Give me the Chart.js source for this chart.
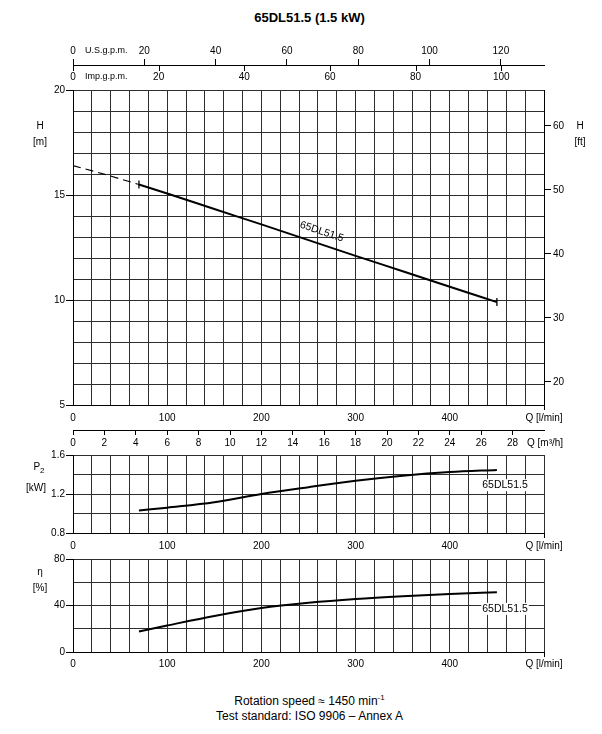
<!DOCTYPE html>
<html><head><meta charset="utf-8">
<script src="https://cdn.jsdelivr.net/npm/chart.js@4.4.1/dist/chart.umd.min.js"></script>
<style>
html,body{margin:0;padding:0;background:#fff;}
body{width:602px;height:734px;position:relative;overflow:hidden;font-family:"Liberation Sans",Arial,sans-serif;color:#000;}
canvas{position:absolute;left:0;}
.t{position:absolute;white-space:nowrap;text-align:center;}
.n{font-family:"Liberation Sans Narrow","Liberation Sans",Arial,sans-serif;font-size:10px;line-height:12px;}
</style></head><body>
<div class="t" style="left:0;width:619px;top:10px;font-size:13px;line-height:16px;font-weight:bold;">65DL51.5 (1.5 kW)</div>

<canvas id="c1" width="602" height="450" style="top:0px"></canvas>
<canvas id="c2" width="602" height="115" style="top:440px"></canvas>
<canvas id="c3" width="602" height="130" style="top:545px"></canvas>

<div class="t n" style="left:30px;width:20px;top:120px;">H</div>
<div class="t n" style="left:30px;width:20px;top:136px;">[m]</div>
<div class="t n" style="left:570px;width:20px;top:120px;">H</div>
<div class="t n" style="left:570px;width:20px;top:136px;">[ft]</div>
<div class="t n" style="left:29px;width:20px;top:461px;">P<span style="font-size:8px;position:relative;top:3px;">2</span></div>
<div class="t n" style="left:26px;width:20px;top:482px;">[kW]</div>
<div class="t n" style="left:30px;width:20px;top:566px;">&eta;</div>
<div class="t n" style="left:30px;width:20px;top:582px;">[%]</div>

<div class="t" style="left:0;width:619px;top:694px;font-size:12px;line-height:15px;">Rotation speed &asymp; 1450 min<sup style="font-size:8px;line-height:0;">-1</sup></div>
<div class="t" style="left:0;width:619px;top:709px;font-size:12px;line-height:15px;">Test standard: ISO 9906 &ndash; Annex A</div>

<script>
// ---------------- data ----------------
const CURVE_NAME = '65DL51.5';
// H curve, dashed part (outside the operating range)
const Q_H_DASH = [0, 35, 70];
const H_DASH   = [16.4, 15.97, 15.5];
// H curve, operating range
const Q_H = [70, 100, 150, 200, 250, 300, 350, 400, 450];
const H_M = [15.5, 15.07, 14.33, 13.6, 12.85, 12.1, 11.37, 10.63, 9.9];
// P2 and efficiency curves
const Q_PE  = [70, 100, 150, 200, 250, 300, 350, 400, 450];
const P2_KW = [1.03, 1.06, 1.115, 1.2, 1.27, 1.335, 1.387, 1.425, 1.447];
const ETA   = [17.7, 22.8, 31, 37.8, 42.3, 45.6, 48, 49.9, 51.4];
// tick labels
const Q_LABELS   = [0, 100, 200, 300, 400];
const H_LABELS   = [5, 10, 15, 20];
const FT_LABELS  = [20, 30, 40, 50, 60];
const USG_LABELS = [0, 20, 40, 60, 80, 100, 120];
const IMPG_LABELS= [0, 20, 40, 60, 80, 100];
const M3H_LABELS = [0, 2, 4, 6, 8, 10, 12, 14, 16, 18, 20, 22, 24, 26, 28];
const P2_LABELS  = [0.8, 1.2, 1.6];
const ETA_LABELS = [0, 40, 80];
// unit conversions
const L_PER_USG = 3.785411784, L_PER_IMPG = 4.54609, FT_PER_M = 3.28084, LMIN_PER_M3H = 1000/60;

// ---------------- helpers ----------------
const NARROW = '"Liberation Sans Narrow","Liberation Sans",Arial,sans-serif';
const GRID = '#2e2e2e';
const CLEAR = 'rgba(0,0,0,0)';
Chart.defaults.font.family = NARROW;
Chart.defaults.font.size = 10;
Chart.defaults.color = '#000';
function range(a, b, s){ const r=[]; const n=Math.round((b-a)/s); for(let i=0;i<=n;i++) r.push(Math.round((a+i*s)*1e6)/1e6); return r; }
function pts(xs, ys){ return xs.map((x,i)=>({x:x, y:ys[i]})); }
function has(arr, v){ return arr.some(a=>Math.abs(a-v)<1e-6); }
function setTicks(arr){ return s=>{ s.ticks = arr.map(v=>({value:v})); }; }
function fixW(w){ return s=>{ s.width = w; }; }
function fixH(h){ return s=>{ s.height = h; }; }

function qAxis(h, pad){
  return {
    type:'linear', position:'bottom', weight:0, min:0, max:500,
    afterBuildTicks: setTicks(range(0,500,20)),
    ticks:{autoSkip:false, maxRotation:0, padding:pad,
      callback:v=> v===500 ? 'Q [l/min]' : (has(Q_LABELS,v) ? String(v) : '')},
    grid:{color:GRID, lineWidth:1, tickLength:5, tickColor:c=> (c.tick && c.tick.value===500) ? '#000' : CLEAR},
    border:{color:'#000'},
    afterFit: fixH(h)
  };
}
function leftAxis(min, max, step, labels, fmt){
  return {
    type:'linear', position:'left', min:min, max:max,
    afterBuildTicks: setTicks(range(min,max,step)),
    ticks:{autoSkip:false, padding:1, callback:v=> has(labels,v) ? fmt(v) : ''},
    grid:{color:GRID, lineWidth:1, tickLength:7, tickColor:c=> (c.tick && has(labels,c.tick.value)) ? '#000' : CLEAR},
    border:{color:'#000'},
    afterFit: fixW(73)
  };
}
function lineDs(xs, ys, extra){
  return Object.assign({data:pts(xs,ys), borderColor:'#000', borderWidth:2, pointRadius:0,
    cubicInterpolationMode:'monotone', fill:false}, extra||{});
}
const baseOpts = {responsive:false, animation:false, events:[],
  plugins:{legend:{display:false}, tooltip:{enabled:false}, title:{display:false}}};

// ---------------- main H chart ----------------
const extrasMain = {
  id:'extrasMain',
  afterDraw(chart){
    const {ctx, scales} = chart;
    const us = scales.xus, imp = scales.ximp, x = scales.x, y = scales.y, m3 = scales.xm3;
    ctx.save();
    // Imp. g.p.m. tick marks hang down from the shared line
    ctx.strokeStyle = '#000'; ctx.lineWidth = 1;
    ctx.beginPath();
    IMPG_LABELS.forEach(v=>{
      const px = Math.round(imp.getPixelForValue(v)) + 0.5;
      ctx.moveTo(px, us.bottom); ctx.lineTo(px, us.bottom + 6);
    });
    ctx.stroke();
    ctx.fillStyle = '#000';
    ctx.font = '9px ' + NARROW;
    ctx.textBaseline = 'middle'; ctx.textAlign = 'left';
    ctx.fillText('U.S.g.p.m.', chart.chartArea.left + 12, us.bottom - 14);
    ctx.fillText('Imp.g.p.m.', chart.chartArea.left + 12, imp.bottom - 13);
    ctx.font = '10px ' + NARROW;
    ctx.fillText('Q [m\u00B3/h]', m3.getPixelForValue(30) - 17, m3.top + 13);
    // curve name along the H curve
    const xa = x.getPixelForValue(Q_H[3]), ya = y.getPixelForValue(H_M[3]);
    const xb = x.getPixelForValue(Q_H[5]), yb = y.getPixelForValue(H_M[5]);
    const ang = Math.atan2(yb - ya, xb - xa);
    ctx.translate(x.getPixelForValue(264), y.getPixelForValue(13.25));
    ctx.rotate(ang);
    ctx.font = '10.5px ' + NARROW;
    ctx.textAlign = 'center';
    ctx.fillText(CURVE_NAME, 0, 0);
    ctx.restore();
  }
};

new Chart(document.getElementById('c1'), {
  type:'line',
  data:{datasets:[
    lineDs(Q_H_DASH, H_DASH, {borderWidth:1.2, borderDash:[8,5], cubicInterpolationMode:'default', tension:0}),
    lineDs(Q_H, H_M),
    {data:[{x:Q_H[0], y:H_M[0]}, {x:Q_H[Q_H.length-1], y:H_M[H_M.length-1]}], showLine:false,
      pointStyle:'line', pointRotation:90, pointRadius:4, pointBorderWidth:1.3, pointBorderColor:'#000'}
  ]},
  options:Object.assign({}, baseOpts, {
    layout:{padding:{top:40, left:0, right:0, bottom:0}},
    scales:{
      x: qAxis(25, 2),
      xm3:{type:'linear', position:'bottom', weight:1, min:0, max:500/LMIN_PER_M3H,
        afterBuildTicks: setTicks(M3H_LABELS),
        ticks:{autoSkip:false, maxRotation:0, padding:2},
        grid:{drawOnChartArea:false, tickLength:5, tickColor:'#000', color:'#000'},
        border:{color:'#000'}, afterFit: fixH(20)},
      ximp:{type:'linear', position:'top', weight:0, min:0, max:500/L_PER_IMPG,
        afterBuildTicks: setTicks(IMPG_LABELS),
        ticks:{autoSkip:false, maxRotation:0, padding:0},
        grid:{drawOnChartArea:false, tickLength:7, tickColor:CLEAR, color:CLEAR},
        border:{display:false}, afterFit: fixH(25)},
      xus:{type:'linear', position:'top', weight:1, min:0, max:500/L_PER_USG,
        afterBuildTicks: setTicks(USG_LABELS),
        ticks:{autoSkip:false, maxRotation:0, padding:2},
        grid:{drawOnChartArea:false, tickLength:6, tickColor:'#000', color:'#000'},
        border:{color:'#000'}, afterFit: fixH(25)},
      y: leftAxis(5, 20, 1, H_LABELS, v=>String(v)),
      yft:{type:'linear', position:'right', min:5*FT_PER_M, max:20*FT_PER_M,
        afterBuildTicks: setTicks(FT_LABELS),
        ticks:{autoSkip:false, padding:2},
        grid:{drawOnChartArea:false, tickLength:7, tickColor:'#000', color:'#000'},
        border:{color:'#000'}, afterFit: fixW(58)}
    }
  }),
  plugins:[extrasMain]
});

// ---------------- P2 and efficiency charts ----------------
function nameLabel(q, v){
  return {id:'name', afterDatasetsDraw(chart){
    const {ctx, scales:{x, y}} = chart;
    const px = x.getPixelForValue(q), py = y.getPixelForValue(v);
    ctx.save();
    ctx.font = '10.5px ' + NARROW;
    const w = ctx.measureText(CURVE_NAME).width;
    ctx.fillStyle = '#fff';
    ctx.fillRect(px - w/2 - 1, py - 6, w + 2, 12);
    ctx.fillStyle = '#000'; ctx.textAlign = 'center'; ctx.textBaseline = 'middle';
    ctx.fillText(CURVE_NAME, px, py);
    ctx.restore();
  }};
}

new Chart(document.getElementById('c2'), {
  type:'line',
  data:{datasets:[lineDs(Q_PE, P2_KW)]},
  options:Object.assign({}, baseOpts, {
    layout:{padding:{top:15, left:0, right:58, bottom:0}},
    scales:{
      x: qAxis(22, 2),
      y: leftAxis(0.8, 1.6, 0.2, P2_LABELS, v=>v.toFixed(1))
    }
  }),
  plugins:[nameLabel(458.6, 1.29)]
});

new Chart(document.getElementById('c3'), {
  type:'line',
  data:{datasets:[lineDs(Q_PE, ETA)]},
  options:Object.assign({}, baseOpts, {
    layout:{padding:{top:14, left:0, right:58, bottom:0}},
    scales:{
      x: qAxis(23, 1),
      y: leftAxis(0, 80, 20, ETA_LABELS, v=>String(v))
    }
  }),
  plugins:[nameLabel(458.6, 37.1)]
});
</script>
</body></html>
